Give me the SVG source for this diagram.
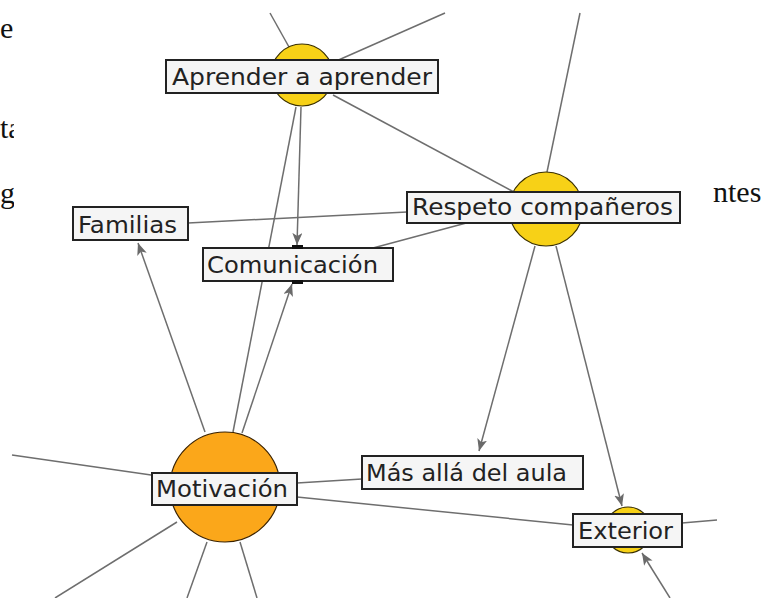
<svg xmlns="http://www.w3.org/2000/svg" width="765" height="598" viewBox="0 0 765 598">
<defs>
<style>
.bg{fill:#ffffff}
.doc{font-family:"Liberation Serif","Times New Roman",serif;font-size:30px;fill:#111}
.edge{stroke:#6e6e6e;stroke-width:1.5;fill:none}
.arrow{marker-end:url(#ah)}
.box{fill:#f5f5f5;stroke:#222;stroke-width:2}
.lbl{font-family:"DejaVu Sans","Liberation Sans",Arial,sans-serif;font-size:23px;fill:#222}
.yel{fill:#f7d117;stroke:#3a3000;stroke-width:1.2}
.org{fill:#fba71a;stroke:#3a2200;stroke-width:1.2}
.mark{fill:#111}
</style>
<marker id="ah" markerUnits="userSpaceOnUse" markerWidth="14" markerHeight="12" refX="12" refY="5" orient="auto">
<path d="M0,0 L12,5 L0,10 L3,5 z" fill="#6a6a6a"/>
</marker>
<clipPath id="cl"><rect x="0" y="0" width="14" height="598"/></clipPath>
<clipPath id="cr"><rect x="713" y="0" width="52" height="598"/></clipPath>
</defs>
<rect class="bg" x="0" y="0" width="765" height="598"/>
<g id="doc-text">
<g clip-path="url(#cl)">
<text class="doc" x="0" y="38">e</text>
<text class="doc" x="0" y="138">ta</text>
<text class="doc" x="0" y="203">gu</text>
</g>
<g clip-path="url(#cr)">
<text class="doc" x="713" y="202">ntes</text>
</g>
</g>
<g id="connectors">
<line class="edge" x1="270" y1="13" x2="289" y2="47"/>
<line class="edge" x1="334" y1="62" x2="445" y2="13"/>
<line class="edge" x1="333" y1="95" x2="514" y2="192"/>
<line class="edge" x1="547" y1="172" x2="580" y2="13"/>
<line class="edge arrow" x1="301" y1="107" x2="297" y2="245"/>
<line class="edge" x1="296" y1="107" x2="233" y2="432"/>
<line class="edge arrow" x1="242" y1="433" x2="292" y2="284"/>
<line class="edge arrow" x1="205" y1="432" x2="138" y2="243"/>
<line class="edge" x1="188" y1="223" x2="407" y2="212"/>
<line class="edge" x1="373" y1="248" x2="470" y2="222"/>
<line class="edge arrow" x1="535" y1="246" x2="479" y2="451"/>
<line class="edge arrow" x1="556" y1="246" x2="622" y2="506"/>
<line class="edge" x1="297" y1="483" x2="362" y2="479"/>
<line class="edge" x1="297" y1="497" x2="573" y2="525"/>
<line class="edge" x1="682" y1="523" x2="717" y2="520"/>
<line class="edge arrow" x1="670" y1="598" x2="642" y2="553"/>
<line class="edge" x1="12" y1="455" x2="172" y2="478"/>
<line class="edge" x1="177" y1="522" x2="55" y2="598"/>
<line class="edge" x1="207" y1="542" x2="187" y2="598"/>
<line class="edge" x1="240" y1="542" x2="257" y2="598"/>
</g>
<g id="node-aprender">
<circle class="yel" cx="302" cy="75" r="31"/>
<rect class="box" x="166" y="60" width="272" height="33"/>
<text class="lbl" x="172" y="85" textLength="260" lengthAdjust="spacingAndGlyphs">Aprender a aprender</text>
</g>
<g id="node-respeto">
<circle class="yel" cx="546" cy="209" r="37"/>
<rect class="box" x="407" y="192" width="273" height="31"/>
<text class="lbl" x="412" y="215" textLength="261" lengthAdjust="spacingAndGlyphs">Respeto compañeros</text>
</g>
<g id="node-familias">
<rect class="box" x="73" y="207" width="115" height="33"/>
<text class="lbl" x="78" y="233" textLength="99" lengthAdjust="spacingAndGlyphs">Familias</text>
</g>
<g id="node-comunicacion">
<rect class="box" x="203" y="248" width="190" height="33"/>
<text class="lbl" x="207" y="273" textLength="171" lengthAdjust="spacingAndGlyphs">Comunicación</text>
<rect class="mark" x="292" y="245" width="11" height="4"/>
<rect class="mark" x="292" y="280" width="11" height="4"/>
</g>
<g id="node-motivacion">
<circle class="org" cx="225" cy="487" r="55"/>
<rect class="box" x="152" y="473" width="145" height="32"/>
<text class="lbl" x="156" y="497" textLength="132" lengthAdjust="spacingAndGlyphs">Motivación</text>
</g>
<g id="node-mas-alla">
<rect class="box" x="362" y="456" width="221" height="33"/>
<text class="lbl" x="366" y="481" textLength="201" lengthAdjust="spacingAndGlyphs">Más allá del aula</text>
</g>
<g id="node-exterior">
<circle class="yel" cx="628" cy="530" r="23"/>
<rect class="box" x="573" y="514" width="109" height="33"/>
<text class="lbl" x="578" y="539" textLength="95" lengthAdjust="spacingAndGlyphs">Exterior</text>
</g>
</svg>
